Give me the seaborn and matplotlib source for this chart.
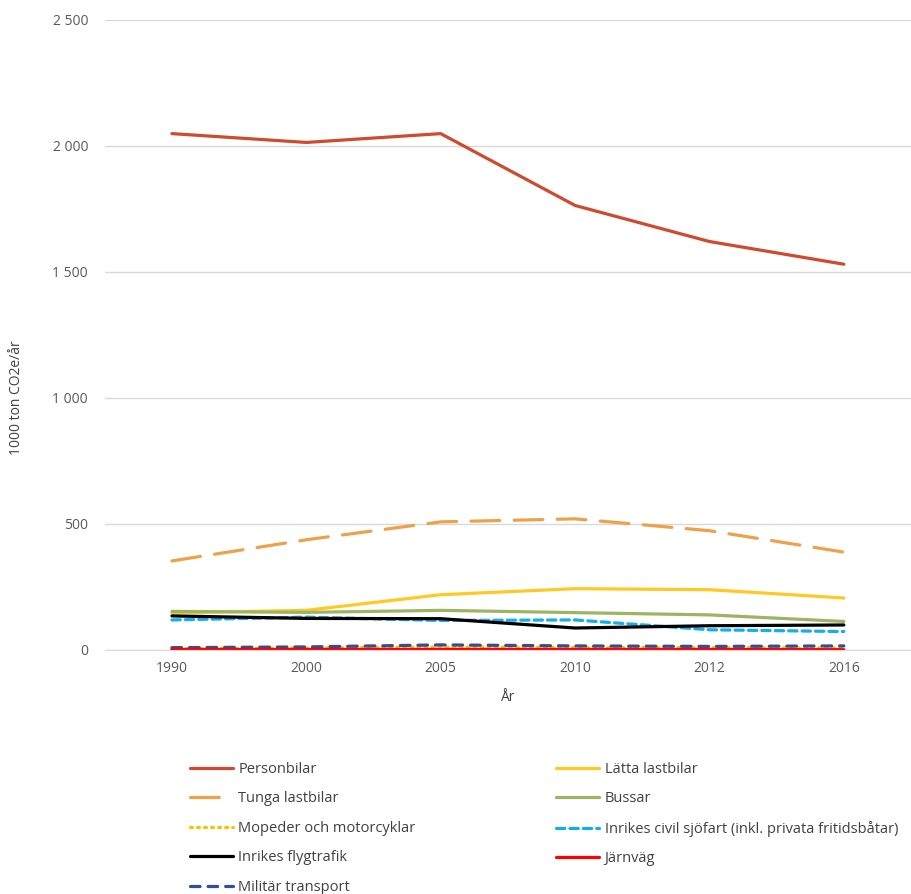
import pandas as pd
import seaborn as sns
from matplotlib import pyplot as plt
import matplotlib.ticker as mtick

years = ["1990", "2000", "2005", "2010", "2012", "2016"]

personbilar = [2048, 2013, 2048, 1763, 1620, 1530]
latta_lastbilar = [147, 157, 219, 243, 239, 206]
tunga_lastbilar = [353, 437, 508, 520, 473, 388]
bussar = [153, 149, 157, 148, 139, 113]
mopeder = [5, 8, 12, 10, 9, 8]
sjofart = [119, 130, 117, 119, 80, 73]
flygtrafik = [135, 125, 124, 87, 96, 99]
jarnvag = [2, 2, 2, 2, 2, 1]
militar = [9, 12, 20, 16, 14, 16]

series = {
    "Personbilar": personbilar,
    "Lätta lastbilar": latta_lastbilar,
    "Tunga lastbilar": tunga_lastbilar,
    "Bussar": bussar,
    "Mopeder och motorcyklar": mopeder,
    "Inrikes civil sjöfart (inkl. privata fritidsbåtar)": sjofart,
    "Inrikes flygtrafik": flygtrafik,
    "Militär transport": militar,
    "Järnväg": jarnvag,
}

colors = {
    "Personbilar": "#CF4A2E",
    "Lätta lastbilar": "#FFC823",
    "Tunga lastbilar": "#EDA24A",
    "Bussar": "#9BB561",
    "Mopeder och motorcyklar": "#FFC000",
    "Inrikes civil sjöfart (inkl. privata fritidsbåtar)": "#13AEEB",
    "Inrikes flygtrafik": "#000000",
    "Järnväg": "#FF0000",
    "Militär transport": "#2F4F96",
}

dashes = {
    "Personbilar": "",
    "Lätta lastbilar": "",
    "Tunga lastbilar": (9, 4.5),
    "Bussar": "",
    "Mopeder och motorcyklar": (0.6, 1.6),
    "Inrikes civil sjöfart (inkl. privata fritidsbåtar)": (2.6, 1.6),
    "Inrikes flygtrafik": "",
    "Järnväg": "",
    "Militär transport": (3, 2.5),
}

rows = []
for name, vals in series.items():
    for yr, v in zip(years, vals):
        rows.append({"År": yr, "Värde": v, "Kategori": name})
df = pd.DataFrame(rows)

sns.set_style("white")
plt.rcParams["font.family"] = ["Open Sans", "DejaVu Sans"]

fig = plt.figure(figsize=(9.11, 8.94), dpi=100)
ax = fig.add_axes([0.115, 0.273, 0.885, 0.705])

sns.lineplot(data=df, x="År", y="Värde", hue="Kategori", style="Kategori",
             palette=colors, dashes=dashes, linewidth=2.3, ax=ax,
             hue_order=list(series.keys()), style_order=list(series.keys()))

for line in ax.get_lines():
    line.set_solid_capstyle("round")
    line.set_dash_capstyle("round")

ax.set_ylim(0, 2500)
ax.set_xlim(-0.5, 5.5)
ax.yaxis.set_major_locator(mtick.MultipleLocator(500))
ax.yaxis.set_major_formatter(mtick.FuncFormatter(lambda v, p: f"{int(v):,}".replace(",", " ")))
ax.grid(axis="y", color="#d9d9d9", linewidth=1)
ax.set_axisbelow(True)
sns.despine(ax=ax, left=True, top=True, right=True)
ax.spines["bottom"].set_color("#d9d9d9")
ax.tick_params(axis="y", colors="#595959", labelsize=10, length=0, pad=12)
ax.tick_params(axis="x", colors="#595959", labelsize=10, length=0, pad=8)
ax.set_xlabel("År", color="#404040", fontsize=10, labelpad=10)
ax.set_ylabel("1000 ton CO2e/år", color="#404040", fontsize=10)
ax.yaxis.set_label_coords(-0.1, 0.4)

handles, labels = ax.get_legend_handles_labels()
hmap = dict(zip(labels, handles))
order = ["Personbilar", "Tunga lastbilar", "Mopeder och motorcyklar",
         "Inrikes flygtrafik", "Militär transport",
         "Lätta lastbilar", "Bussar",
         "Inrikes civil sjöfart (inkl. privata fritidsbåtar)", "Järnväg"]
ax.legend([hmap[k] for k in order], order, ncol=2, frameon=False,
          loc="upper left", bbox_to_anchor=(0.089, -0.157), fontsize=10.5,
          handlelength=3.0, handletextpad=0.35, columnspacing=9.6,
          labelspacing=0.99, labelcolor="#404040")

fig.savefig("out.png", dpi=100)
